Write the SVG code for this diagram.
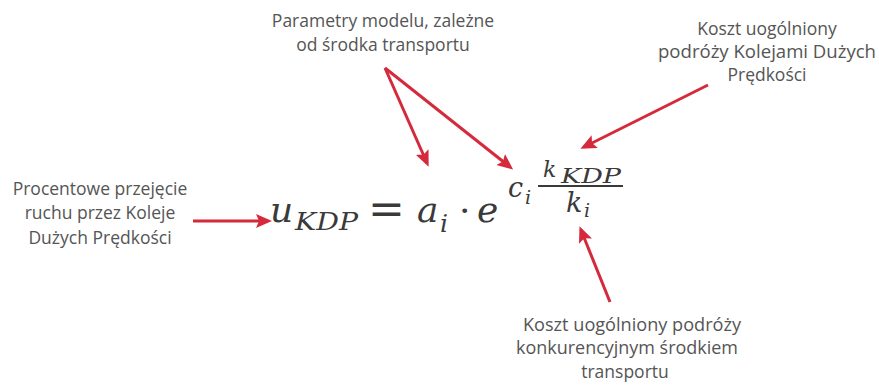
<svg xmlns="http://www.w3.org/2000/svg" width="879" height="385" viewBox="0 0 879 385">
<defs>
<style>
.lbl{font-family:"Open Sans","Liberation Sans",sans-serif;font-size:17.5px;fill:#555;text-anchor:middle}
.m{font-family:"DejaVu Serif","Liberation Serif",serif;font-style:italic;fill:#3a3a3a}
.up{font-family:"DejaVu Serif","Liberation Serif",serif;fill:#3a3a3a}
.arr{stroke:#d42a3c;stroke-width:3;fill:none;marker-end:url(#ah)}
</style>
<marker id="ah" markerUnits="userSpaceOnUse" markerWidth="17" markerHeight="15" refX="12" refY="7" orient="auto">
<path d="M0,0 L16,7 L0,14 L3,7 z" fill="#d42a3c"/>
</marker>
</defs>
<rect width="879" height="385" fill="#fff"/>
<g id="label-params">
<text class="lbl" x="383" y="27">Parametry modelu, zależne</text>
<text class="lbl" x="383" y="51">od środka transportu</text>
</g>
<g id="label-kdp-cost">
<text class="lbl" x="767" y="35">Koszt uogólniony</text>
<text class="lbl" x="767" y="58" textLength="218" lengthAdjust="spacingAndGlyphs">podróży Kolejami Dużych</text>
<text class="lbl" x="767" y="81">Prędkości</text>
</g>
<g id="label-share">
<text class="lbl" x="100" y="195">Procentowe przejęcie</text>
<text class="lbl" x="100" y="219">ruchu przez Koleje</text>
<text class="lbl" x="100" y="244">Dużych Prędkości</text>
</g>
<g id="label-comp-cost">
<text class="lbl" x="632" y="331" textLength="218" lengthAdjust="spacingAndGlyphs">Koszt uogólniony podróży</text>
<text class="lbl" x="627" y="354" textLength="222" lengthAdjust="spacingAndGlyphs">konkurencyjnym środkiem</text>
<text class="lbl" x="625" y="378">transportu</text>
</g>
<g id="formula">
<text class="m" x="270" y="222" font-size="36">u</text>
<text class="m" x="295" y="230" font-size="25" textLength="63" lengthAdjust="spacingAndGlyphs">KDP</text>
<text class="up" x="368" y="224" font-size="44">=</text>
<text class="m" x="417" y="222" font-size="36">a</text>
<text class="m" x="440" y="232" font-size="25">i</text>
<text class="up" x="459" y="223" font-size="36">·</text>
<text class="m" x="477" y="222" font-size="36">e</text>
<text class="m" x="508" y="197" font-size="27">c</text>
<text class="m" x="525" y="204" font-size="19">i</text>
<line x1="538" y1="186" x2="623" y2="186" stroke="#3a3a3a" stroke-width="2"/>
<text class="m" x="543" y="177" font-size="22">k</text>
<text class="m" x="561" y="183" font-size="20" textLength="60" lengthAdjust="spacingAndGlyphs">KDP</text>
<text class="m" x="566" y="212" font-size="27">k</text>
<text class="m" x="584" y="217" font-size="19">i</text>
</g>
<g id="connectors">
<line class="arr" x1="193" y1="221" x2="268" y2="221"/>
<line class="arr" x1="385" y1="68" x2="427" y2="163"/>
<line class="arr" x1="385" y1="68" x2="510" y2="167"/>
<line class="arr" x1="708" y1="85" x2="584" y2="147"/>
<line class="arr" x1="610" y1="302" x2="581" y2="230"/>
</g>
</svg>
